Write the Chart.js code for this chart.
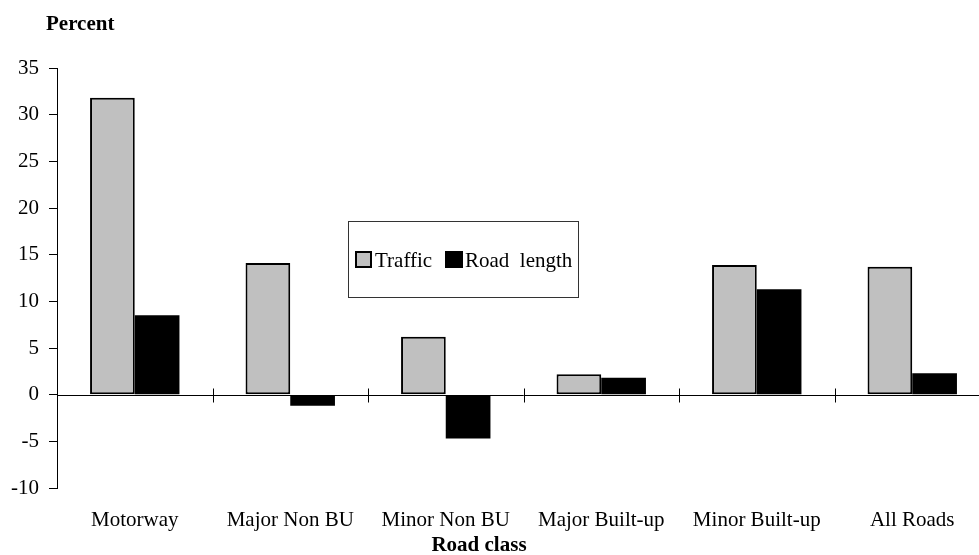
<!DOCTYPE html>
<html>
<head>
<meta charset="utf-8">
<script src="https://cdn.jsdelivr.net/npm/chart.js@4/dist/chart.umd.min.js"></script>
<style>
  html, body { margin: 0; padding: 0; background: #fff; overflow: hidden; }
  #wrap { width: 1000px; height: 555px; }
</style>
</head>
<body>
<div id="wrap"><canvas id="chart-road"></canvas></div>
<script>
const roadClasses = ['Motorway', 'Major Non BU', 'Minor Non BU', 'Major Built-up', 'Minor Built-up', 'All Roads'];
const trafficValue = [31.8, 14.1, 6.2, 2.2, 13.9, 13.7];
const roadLengthValue = [8.5, -1.2, -4.7, 1.8, 11.3, 2.3];
const seriesNames = ['Traffic', 'Road  length'];
const yTitle = 'Percent';
const xTitle = 'Road class';

const FONT = '"Liberation Serif", "Times New Roman", serif';

// zero line, x tick marks, titles and the boxed legend
const extras = {
    id: 'extras',
    afterDatasetsDraw(chart) {
        const ctx = chart.ctx;
        const area = chart.chartArea;
        const x = chart.scales.x;
        const y0 = Math.round(chart.scales.y.getPixelForValue(0)) + 0.5;
        ctx.save();
        ctx.strokeStyle = '#000';
        ctx.lineWidth = 1;
        ctx.beginPath();
        ctx.moveTo(area.left, y0);
        ctx.lineTo(area.right, y0);
        const step = x.getPixelForValue(1) - x.getPixelForValue(0);
        for (let i = 1; i < roadClasses.length; i++) {
            const px = Math.round(x.getPixelForValue(i) - step / 2) + 0.5;
            ctx.moveTo(px, y0 - 7);
            ctx.lineTo(px, y0 + 7);
        }
        ctx.stroke();

        ctx.fillStyle = '#000';
        ctx.font = 'bold 21px ' + FONT;
        ctx.textBaseline = 'middle';
        ctx.textAlign = 'left';
        ctx.fillText(yTitle, 46, 25);
        ctx.textAlign = 'center';
        ctx.fillText(xTitle, 479, 546);

        // legend box
        ctx.lineWidth = 1;
        ctx.strokeStyle = '#333';
        ctx.strokeRect(348.5, 221.5, 230, 76);
        ctx.font = '21px ' + FONT;
        ctx.textAlign = 'left';
        ctx.fillStyle = '#c0c0c0';
        ctx.fillRect(356, 252, 15, 15);
        ctx.lineWidth = 2;
        ctx.strokeStyle = '#000';
        ctx.strokeRect(356, 252, 15, 15);
        ctx.fillStyle = '#000';
        ctx.fillText(seriesNames[0], 375, 261);
        ctx.fillRect(445, 251, 18, 17);
        ctx.fillText(seriesNames[1], 465, 261);
        ctx.restore();
    }
};

new Chart(document.getElementById('chart-road').getContext('2d'), {
    type: 'bar',
    data: {
        labels: roadClasses,
        datasets: [
            {
                label: seriesNames[0],
                data: trafficValue,
                backgroundColor: '#c0c0c0',
                borderColor: '#000',
                borderWidth: 2,
                borderSkipped: false
            },
            {
                label: seriesNames[1],
                data: roadLengthValue,
                backgroundColor: '#000',
                borderColor: '#000',
                borderWidth: 0
            }
        ]
    },
    options: {
        responsive: true,
        maintainAspectRatio: false,
        animation: false,
        layout: { padding: { top: 68, right: 10, left: 0, bottom: 0 } },
        plugins: {
            legend: { display: false },
            tooltip: { enabled: false }
        },
        datasets: { bar: { categoryPercentage: 0.575, barPercentage: 1 } },
        scales: {
            x: {
                grid: { display: false, drawTicks: false },
                border: { display: false },
                ticks: { color: '#000', font: { family: FONT, size: 21 }, padding: 20, maxRotation: 0, autoSkip: false },
                afterFit(scale) { scale.height = 555 - 488; }
            },
            y: {
                min: -10,
                max: 35,
                ticks: { stepSize: 5, color: '#000', font: { family: FONT, size: 21 }, padding: 10 },
                grid: { drawOnChartArea: false, tickLength: 8, color: '#000' },
                border: { display: true, color: '#000', width: 1 },
                afterFit(scale) { scale.width = 57; }
            }
        }
    },
    plugins: [extras]
});
</script>
</body>
</html>
